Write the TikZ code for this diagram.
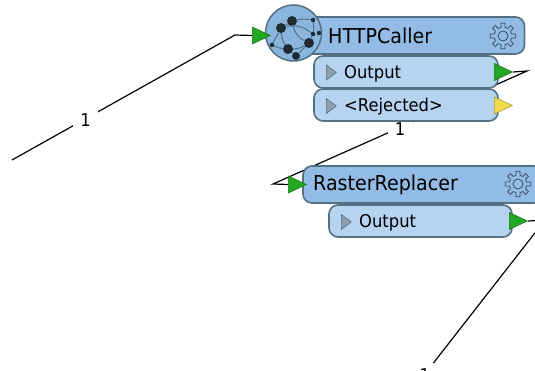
\documentclass[tikz,border=0pt]{standalone}
\usepackage{fontspec}
\setmainfont[FakeStretch=0.93]{DejaVu Sans}
\usepackage[dvipsnames]{xcolor}
\usetikzlibrary{shapes.geometric}
\pgfdeclarelayer{wires}
\pgfsetlayers{wires,main}
\definecolor{bodyblue}{HTML}{92BCE5}
\definecolor{pillblue}{HTML}{B6D3F0}
\definecolor{edgegrey}{HTML}{557083}
\definecolor{geargrey}{HTML}{3F4F5C}
\definecolor{portgreen}{HTML}{22A822}
\definecolor{portyellow}{HTML}{EFDC4A}
\definecolor{arrowgrey}{HTML}{8E9FB0}
\definecolor{globeblue}{HTML}{8AB6DE}
\definecolor{dotblack}{HTML}{1F2A33}
\tikzset{
    body box/.style={draw=edgegrey, line width=1.6pt, fill=bodyblue, rounded corners=9pt, inner sep=0pt},
    pill box/.style={draw=edgegrey, line width=1.6pt, fill=pillblue, rounded corners=9pt, inner sep=0pt},
    title text/.style={anchor=west, inner sep=0pt, font=\fontsize{20.5}{20.5}\selectfont},
    pill text/.style={anchor=west, inner sep=0pt, font=\fontsize{17.6}{17.6}\selectfont},
    port/.style={shape=isosceles triangle, isosceles triangle stretches, anchor=lower side, minimum width=17pt, minimum height=18pt, inner sep=0pt, draw=#1!70!black, fill=#1, line width=0.6pt},
    open mark/.style={shape=isosceles triangle, isosceles triangle stretches, anchor=lower side, minimum width=15pt, minimum height=10pt, inner sep=0pt, draw=edgegrey, fill=arrowgrey, line width=0.6pt},
    wire/.style={line width=1.2pt},
    count label/.style={fill=white, inner sep=0pt, minimum size=25pt, yshift=-1.5pt, font=\fontsize{17.6}{17.6}\selectfont},
    big dot/.style={circle, fill=dotblack, inner sep=0pt, minimum size=10pt},
    small dot/.style={circle, fill=dotblack, inner sep=0pt, minimum size=4.5pt},
    web line/.style={edgegrey, line width=1pt},
    gear icon/.pic={
        \foreach \a in {0,45,...,315} {
            \draw[geargrey, line width=0.8pt, line join=round] (\a-22.5:8.6) -- (\a-12:9.2) -- (\a-9:13) -- (\a+9:13) -- (\a+12:9.2) -- (\a+22.5:8.6);
        }
        \draw[geargrey, line width=0.8pt] (0,0) circle (5);
    }
}

\begin{document}
\begin{tikzpicture}[x=1pt, y=-1pt]

    \path[use as bounding box] (0,0) rectangle (535,371);

    \coordinate (start1) at (12,160);
    \coordinate (bend1) at (235,35);
    \coordinate (bend2) at (527,71);
    \coordinate (bend3) at (273,184);
    \coordinate (bend4) at (545,220);
    \coordinate (end3) at (410,393);

    % HTTPCaller
    \node[pill box, minimum width=184pt, minimum height=32pt] (output1) at (406,72) {};
    \node[pill box, minimum width=184pt, minimum height=32pt] (rejected1) at (406,105) {};
    \node[body box, minimum width=225pt, minimum height=37pt] (http) at (412,35.5) {};
    \node[title text] (httptitle) at (328,35.5) {HTTPCaller};
    \node[open mark] (mark1) at (326,72.5) {};
    \node[pill text] (outputtext1) at (344,74) {Output};
    \node[open mark] (mark2) at (326,106) {};
    \node[pill text] (rejectedtext1) at (344,107) {<Rejected>};
    \pic at (503,36) {gear icon};

    \node[circle, draw=edgegrey, line width=1.5pt, fill=globeblue, minimum size=56pt, inner sep=0pt] (globe) at (293.5,33) {};
    \node[big dot] (web1) at (281,28) {};
    \node[big dot] (web2) at (292,21) {};
    \node[big dot] (web3) at (288,49) {};
    \node[big dot] (web4) at (309,43) {};
    \node[big dot, minimum size=8pt] (web5) at (296,56) {};
    \node[small dot] (web6) at (313,20) {};
    \node[small dot] (web7) at (313,34) {};
    \node[small dot] (web8) at (319,33) {};
    \node[small dot] (web9) at (272,45) {};
    \draw[web line] (web1) to (web2);
    \draw[web line] (web2) to[bend left=10] (web6);
    \draw[web line] (web1) to[bend left=25] (web7);
    \draw[web line] (web2) to[bend right=25] (web4);
    \draw[web line] (web6) to (web7);
    \draw[web line] (web7) to (web4);
    \draw[web line] (web4) to (web5);
    \draw[web line] (web3) to (web5);
    \draw[web line] (web9) to[bend right=10] (web3);
    \draw[web line] (web3) to[bend right=15] (web4);
    \draw[web line] (web1) to[bend right=15] (web3);
    \draw[web line] (web9) to (web1);

    % RasterReplacer
    \node[pill box, minimum width=183pt, minimum height=32pt] (output2) at (420.5,221) {};
    \node[body box, minimum width=240pt, minimum height=37pt] (raster) at (423,184.5) {};
    \node[title text] (rastertitle) at (313,184.5) {RasterReplacer};
    \node[open mark] (mark3) at (341,222) {};
    \node[pill text] (outputtext2) at (359,222.5) {Output};
    \pic at (518,184) {gear icon};

    % ports
    \node[port=portgreen] (in1) at (252,35.5) {};
    \node[port=portgreen] (out1) at (494,72) {};
    \node[port=portyellow] (reject1) at (494,105.5) {};
    \node[port=portgreen] (in2) at (288,184.5) {};
    \node[port=portgreen] (out2) at (509,221) {};

    % connectors go under the boxes
    \begin{pgfonlayer}{wires}
        \draw[wire] (start1) to node[count label, pos=0.33] (count1) {1} (bend1) to (in1.lower side);
        \draw[wire] (out1.apex) to (bend2) to node[count label, pos=0.5] (count2) {1} (bend3) to (in2.lower side);
        \draw[wire] (out2.apex) to (bend4) to node[count label, pos=0.89] (count3) {1} (end3);
    \end{pgfonlayer}

\end{tikzpicture}
\end{document}
